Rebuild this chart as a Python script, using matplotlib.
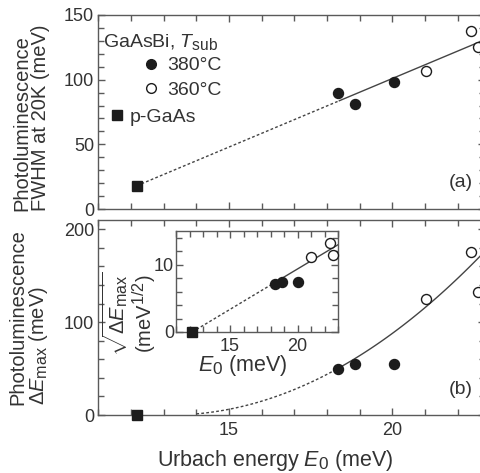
import matplotlib
matplotlib.use('Agg')
import numpy as np
import matplotlib.pyplot as plt
from matplotlib.ticker import MultipleLocator
from matplotlib.lines import Line2D

# subscripts in the reference are only a little smaller than the body text
try:
    import matplotlib._mathtext as _mt
    _mt.SHRINK_FACTOR = 0.8
except Exception:
    pass

plt.rcParams['font.family'] = ['Liberation Sans', 'DejaVu Sans']
plt.rcParams['mathtext.fontset'] = 'custom'
plt.rcParams['mathtext.rm'] = 'Liberation Sans'
plt.rcParams['mathtext.it'] = 'Liberation Sans:italic'
plt.rcParams['mathtext.fallback'] = 'cm'

# --- data ---
e0_380 = [18.34, 18.86, 20.06]
e0_360 = [21.03, 22.42, 22.62]
e0_gaas = [12.18]

fwhm_380 = [89.7, 81.2, 98.0]
fwhm_360 = [106.7, 137.7, 125.0]
fwhm_gaas = [18.0]

demax_380 = [50.0, 55.4, 55.0]
demax_360 = [125.0, 176.0, 132.0]
demax_gaas = [0.0]

# fit lines drawn in the figure (dotted below the first GaAsBi point)
fit_split = 18.35
fwhm_fit = (12.18, 18.0, 10.6)      # x0, y0, slope
demax_fit = (13.2, 1.9)             # x0, k  -> k*(x-x0)^2
sqrt_fit = (12.2, 1.2)              # x0, slope

ink = '#1c1c1c'
frame = '#5a5a5a'
txt = '#333333'
fs_tick = 13
fs_lab = 14.5
fs_xlab = 15.5
fs_leg = 14

W, H = 481, 473
def box(l, t, r, b):
    return [l / W, 1 - b / H, (r - l) / W, (b - t) / H]

fig = plt.figure(figsize=(4.81, 4.73), dpi=100)
ax1 = fig.add_axes(box(98.3, 15, 485.4, 209))
ax2 = fig.add_axes(box(98.3, 220, 485.4, 415))
ax3 = fig.add_axes(box(176, 231, 338, 332))

def style(ax, xmaj, xmin, ymaj, ymin, pad=3):
    for s in ax.spines.values():
        s.set_color(frame)
        s.set_linewidth(1.0)
    ax.xaxis.set_major_locator(MultipleLocator(xmaj))
    ax.xaxis.set_minor_locator(MultipleLocator(xmin))
    ax.yaxis.set_major_locator(MultipleLocator(ymaj))
    ax.yaxis.set_minor_locator(MultipleLocator(ymin))
    ax.tick_params(which='both', direction='in', top=True, right=True,
                   color=frame, labelcolor=txt, labelsize=fs_tick, width=1.0)
    ax.tick_params(which='major', length=5)
    ax.tick_params(which='minor', length=4)
    ax.tick_params(axis='y', pad=pad)

mk = dict(ms=7.2, mec=ink, mew=1.0, ls='none', clip_on=False, zorder=5)
dotted = (0, (2, 1.6))

# (a) FWHM
x = np.linspace(fwhm_fit[0], 23, 200)
y = fwhm_fit[1] + fwhm_fit[2] * (x - fwhm_fit[0])
ax1.plot(x[x <= fit_split], y[x <= fit_split], color='#444444', lw=1.0, ls=dotted)
ax1.plot(x[x >= fit_split], y[x >= fit_split], color='#444444', lw=1.0)
ax1.plot(e0_380, fwhm_380, 'o', mfc=ink, **mk)
ax1.plot(e0_360, fwhm_360, 'o', mfc='white', **mk)
ax1.plot(e0_gaas, fwhm_gaas, 's', mfc=ink, **mk)
ax1.set_xlim(11, 22.85)
ax1.set_ylim(0, 150)
style(ax1, 5, 1, 50, 10)
ax1.tick_params(labelbottom=False)
ax1.set_ylabel('Photoluminescence\nFWHM at 20K (meV)', fontsize=fs_lab, color=txt,
               multialignment='left', linespacing=1.0)
ax1.yaxis.set_label_coords(-0.125, 0.47)
ax1.text(0.012, 0.835, r'GaAsBi, $T_{\rm sub}$', transform=ax1.transAxes,
         fontsize=fs_leg, color=txt, va='baseline')
h380 = Line2D([], [], marker='o', ls='none', ms=7, mfc=ink, mec=ink)
h360 = Line2D([], [], marker='o', ls='none', ms=7, mfc='white', mec=ink)
hgaas = Line2D([], [], marker='s', ls='none', ms=7, mfc=ink, mec=ink)
leg1 = ax1.legend([h380, h360], ['380°C', '360°C'], loc='upper left',
                  bbox_to_anchor=(0.121, 0.785), frameon=False, fontsize=fs_leg,
                  borderpad=0, borderaxespad=0, handlelength=0.6,
                  handletextpad=0.55, labelspacing=0.35, labelcolor=txt)
ax1.add_artist(leg1)
ax1.legend([hgaas], ['p-GaAs'], loc='upper left', bbox_to_anchor=(0.034, 0.52),
           frameon=False, fontsize=fs_leg, borderpad=0, borderaxespad=0,
           handlelength=0.6, handletextpad=0.35, labelcolor=txt)
ax1.text(0.936, 0.139, '(a)', transform=ax1.transAxes, fontsize=fs_leg,
         color=txt, ha='center', va='center')

# (b) Delta E_max
x = np.linspace(14.0, 23, 200)
y = demax_fit[1] * (x - demax_fit[0]) ** 2
ax2.plot(x[x <= fit_split], y[x <= fit_split], color='#444444', lw=1.0, ls=dotted)
ax2.plot(x[x >= fit_split], y[x >= fit_split], color='#444444', lw=1.0)
ax2.plot(e0_380, demax_380, 'o', mfc=ink, **mk)
ax2.plot(e0_360, demax_360, 'o', mfc='white', **mk)
ax2.plot(e0_gaas, demax_gaas, 's', mfc=ink, **mk)
ax2.set_xlim(11, 22.85)
ax2.set_ylim(0, 210)
style(ax2, 5, 1, 100, 20)
ax2.tick_params(axis='x', pad=5)
ax2.set_ylabel('Photoluminescence\n' + r'$\Delta E_{\rm max}$ (meV)', fontsize=fs_lab,
               color=txt, multialignment='left', linespacing=1.0)
ax2.yaxis.set_label_coords(-0.125, 0.5)
ax2.set_xlabel(r'Urbach energy $E_0$ (meV)', fontsize=fs_xlab, color=txt, va='baseline')
ax2.xaxis.set_label_coords(0.456, -0.26)
ax2.text(0.936, 0.133, '(b)', transform=ax2.transAxes, fontsize=fs_leg,
         color=txt, ha='center', va='center')

# inset: sqrt(Delta E_max)
x = np.linspace(sqrt_fit[0], 23, 200)
y = sqrt_fit[1] * (x - sqrt_fit[0])
ax3.plot(x[x <= fit_split], y[x <= fit_split], color='#444444', lw=1.0, ls=dotted)
ax3.plot(x[x >= fit_split], y[x >= fit_split], color='#444444', lw=1.0)
ax3.plot(e0_380, np.sqrt(demax_380), 'o', mfc=ink, **mk)
ax3.plot(e0_360, np.sqrt(demax_360), 'o', mfc='white', **mk)
ax3.plot(e0_gaas, np.sqrt(demax_gaas), 's', mfc=ink, **mk)
ax3.set_xlim(11, 23)
ax3.set_ylim(0, 15)
style(ax3, 5, 1, 10, 2, pad=1.5)
ax3.tick_params(axis='x', pad=4)
ax3.set_ylabel(r'$\sqrt{\Delta E_{\rm max}}$' + '\n' + r'(meV$^{1/2}$)', fontsize=fs_lab,
               color=txt, linespacing=1.0)
ax3.yaxis.set_label_coords(-0.11, 0.18)
ax3.set_xlabel(r'$E_0$ (meV)', fontsize=fs_xlab, color=txt)
ax3.xaxis.set_label_coords(0.41, -0.21)

fig.savefig('out.png', dpi=100)
